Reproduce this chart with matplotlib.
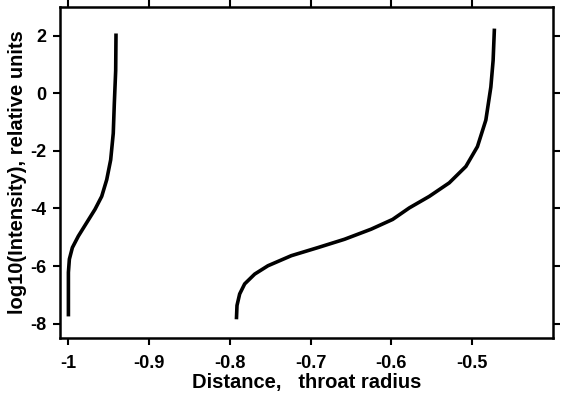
import matplotlib
matplotlib.use("Agg")
import matplotlib.pyplot as plt

# Left branch (distance, log10 intensity)
x1 = [-0.9996, -0.9996, -0.9984, -0.9947, -0.9873, -0.9769, -0.9667, -0.9584,
      -0.9522, -0.9473, -0.9441, -0.9428, -0.9411, -0.9407]
y1 = [-7.75, -6.22, -5.76, -5.36, -4.96, -4.49, -4.03, -3.58,
      -3.00, -2.31, -1.39, -0.36, 0.79, 2.08]
# Right branch
x2 = [-0.7917, -0.7910, -0.7877, -0.7815, -0.7691, -0.7527, -0.7238, -0.6910,
      -0.6580, -0.6251, -0.5984, -0.5778, -0.5531, -0.5284, -0.5078, -0.4935,
      -0.4831, -0.4769, -0.4741, -0.4725]
y2 = [-7.85, -7.37, -6.97, -6.62, -6.28, -5.99, -5.64, -5.36,
      -5.07, -4.72, -4.38, -3.98, -3.58, -3.11, -2.54, -1.85,
      -0.93, 0.22, 1.14, 2.25]

xticks = [-1.0, -0.9, -0.8, -0.7, -0.6, -0.5]
xticklabels = ["-1", "-0.9", "-0.8", "-0.7", "-0.6", "-0.5"]
yticks = [2, 0, -2, -4, -6, -8]
yticklabels = ["2", "0", "-2", "-4", "-6", "-8"]

plt.rcParams['font.family'] = ['Liberation Sans', 'DejaVu Sans']
plt.rcParams['font.weight'] = 'bold'

fig = plt.figure(figsize=(5.62, 3.96), dpi=100)
ax = fig.add_axes([60/562, 58/396, (553-60)/562, (338-7)/396])

ax.plot(x1, y1, color='black', lw=2.6, solid_capstyle='butt', solid_joinstyle='round')
ax.plot(x2, y2, color='black', lw=2.6, solid_capstyle='butt', solid_joinstyle='round')

ax.set_xlim(-1.01, -0.40)
ax.set_ylim(-8.5, 3.0)
ax.set_xticks(xticks)
ax.set_xticklabels(xticklabels, fontsize=13, fontweight='bold')
ax.set_yticks(yticks)
ax.set_yticklabels(yticklabels, fontsize=13, fontweight='bold')
ax.tick_params(axis='x', pad=7)
ax.tick_params(axis='y', pad=5)
ax.tick_params(direction='out', length=5, width=1.5, top=True, right=True,
               labeltop=False, labelright=False)
for s in ax.spines.values():
    s.set_linewidth(1.8)

ax.set_xlabel("Distance,   throat radius", fontsize=14.5, fontweight='bold', labelpad=1)
ax.set_ylabel("log10(Intensity), relative units", fontsize=14.5, fontweight='bold', labelpad=2)

fig.savefig("out.png", dpi=100)
